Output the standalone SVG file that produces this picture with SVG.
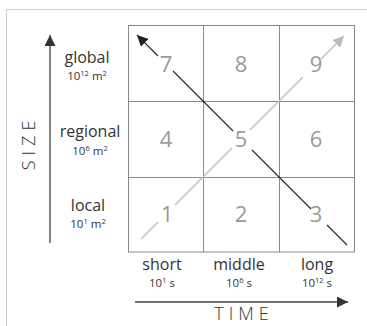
<svg xmlns="http://www.w3.org/2000/svg" width="367" height="326" viewBox="0 0 367 326">
<style>
.lbl{font-family:"Open Sans","Liberation Sans",sans-serif;font-weight:400;fill:#333;text-anchor:middle}
.big{font-size:16px}
.sm{font-size:11.5px}
.sup{font-size:7.5px}
.num{font-family:"Open Sans","Liberation Sans",sans-serif;font-weight:400;font-size:22px;fill:#9a9a9a;text-anchor:middle}
.axis{font-family:"Open Sans","Liberation Sans",sans-serif;font-weight:300;font-size:18px;fill:#333;letter-spacing:5px;text-anchor:middle}
.grid{stroke:#8a8a8a;stroke-width:1;fill:none}
.blk{stroke:#222;stroke-width:1.1;fill:none}
.gry{stroke:#bbb;stroke-width:1.2;fill:none}
.ax{stroke:#444;stroke-width:1.3;fill:none}
</style>
<defs>
<marker id="ahB" viewBox="0 0 10 10" refX="10" refY="5" markerWidth="11" markerHeight="11" markerUnits="userSpaceOnUse" orient="auto"><path d="M0,0 L10,5 L0,10 Z" fill="#222"/></marker>
<marker id="ahG" viewBox="0 0 10 10" refX="10" refY="5" markerWidth="11" markerHeight="11" markerUnits="userSpaceOnUse" orient="auto"><path d="M0,0 L10,5 L0,10 Z" fill="#bbb"/></marker>
<marker id="ahA" viewBox="0 0 10 10" refX="10" refY="5" markerWidth="11" markerHeight="11" markerUnits="userSpaceOnUse" orient="auto"><path d="M0,0 L10,5 L0,10 Z" fill="#333"/></marker>
</defs>
<rect width="367" height="326" fill="#fff"/>
<path d="M6.5,326 V9.5 H367" stroke="#d0d0d0" stroke-width="1" fill="none"/>
<g id="grid">
<rect class="grid" x="128.5" y="25.5" width="226" height="226.5"/>
<path class="grid" d="M203.5,25.5 V252 M279.5,25.5 V252 M128.5,101.5 H354.5 M128.5,177.5 H354.5"/>
</g>
<g id="cells">
<text class="num" x="166" y="72">7</text>
<text class="num" x="241" y="72">8</text>
<text class="num" x="316" y="72">9</text>
<text class="num" x="166" y="147">4</text>
<text class="num" x="241" y="147">5</text>
<text class="num" x="316" y="147">6</text>
<text class="num" x="167" y="222">1</text>
<text class="num" x="241" y="222">2</text>
<text class="num" x="316" y="222">3</text>
</g>
<g id="connectors">
<path class="blk" d="M158,56 L137,35" marker-end="url(#ahB)"/>
<path class="blk" d="M173,71 L233,131 M252,150 L311,209 M327,225 L347,245"/>
<path class="gry" d="M141,239 L158,222 M175,205 L232,148 M250,130 L303,77"/>
<path class="gry" d="M321,59 L344,36" marker-end="url(#ahG)"/>
<path class="ax" d="M50,243 V35" marker-end="url(#ahA)"/>
<path class="ax" d="M135,302 H348" marker-end="url(#ahA)"/>
</g>
<g id="size-labels">
<text class="lbl big" x="87" y="63">global</text>
<text class="lbl sm" x="87" y="80">10<tspan class="sup" dy="-4.5">12</tspan><tspan dy="4.5"> m</tspan><tspan class="sup" dy="-4.5">2</tspan></text>
<text class="lbl big" x="90" y="137">regional</text>
<text class="lbl sm" x="90" y="155">10<tspan class="sup" dy="-4.5">6</tspan><tspan dy="4.5"> m</tspan><tspan class="sup" dy="-4.5">2</tspan></text>
<text class="lbl big" x="88" y="211">local</text>
<text class="lbl sm" x="88" y="228">10<tspan class="sup" dy="-4.5">1</tspan><tspan dy="4.5"> m</tspan><tspan class="sup" dy="-4.5">2</tspan></text>
</g>
<g id="time-labels">
<text class="lbl big" x="162" y="270">short</text>
<text class="lbl sm" x="162" y="287">10<tspan class="sup" dy="-4.5">1</tspan><tspan dy="4.5"> s</tspan></text>
<text class="lbl big" x="239" y="270">middle</text>
<text class="lbl sm" x="239" y="287">10<tspan class="sup" dy="-4.5">6</tspan><tspan dy="4.5"> s</tspan></text>
<text class="lbl big" x="317" y="270">long</text>
<text class="lbl sm" x="317" y="287">10<tspan class="sup" dy="-4.5">12</tspan><tspan dy="4.5"> s</tspan></text>
</g>
<g id="axis-titles">
<text class="axis" x="0" y="0" transform="translate(35,143) rotate(-90)">SIZE</text>
<text class="axis" x="244" y="320">TIME</text>
</g>
</svg>
